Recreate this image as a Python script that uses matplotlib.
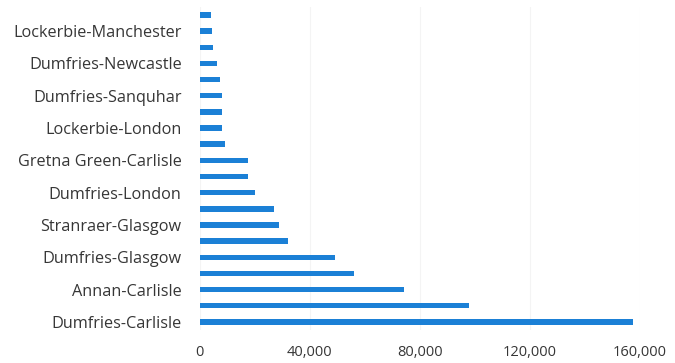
import matplotlib
matplotlib.use("Agg")
import matplotlib.pyplot as plt
from matplotlib.ticker import FuncFormatter

# routes, bottom to top (only every other one is labelled on the axis)
routes = ["Dumfries-Carlisle", "", "Annan-Carlisle", "", "Dumfries-Glasgow", "",
          "Stranraer-Glasgow", "", "Dumfries-London", "", "Gretna Green-Carlisle", "",
          "Lockerbie-London", "", "Dumfries-Sanquhar", "", "Dumfries-Newcastle", "",
          "Lockerbie-Manchester", ""]
journeys = [157500, 97900, 74300, 56200, 49300, 32100, 28800, 26800, 20100, 17600,
            17600, 9100, 8200, 8200, 7900, 7500, 6400, 4850, 4600, 3900]
x_ticks = [0, 40000, 80000, 120000, 160000]

plt.rcParams['font.family'] = ['Open Sans', 'DejaVu Sans']

fig = plt.figure(figsize=(6.75, 3.63), dpi=100)
ax = fig.add_axes([0.296, 0.091, 0.652, 0.89])

pos = list(range(len(journeys)))
ax.barh(pos, journeys, height=0.34, color="#1b80d6", zorder=3)

ax.set_ylim(-0.5, len(journeys) - 0.5)
ax.set_xlim(0, 160000)
ax.set_yticks(pos)
ax.set_yticklabels(routes)
ax.set_xticks(x_ticks)
ax.xaxis.set_major_formatter(FuncFormatter(lambda v, _: f"{int(v):,}"))

ax.grid(axis="x", color="#f4f4f4", linewidth=0.8, zorder=0)
for s in ax.spines.values():
    s.set_visible(False)
ax.tick_params(axis="both", length=0, colors="#363636")
ax.tick_params(axis="y", pad=13, labelsize=11.7)
ax.tick_params(axis="x", pad=11, labelsize=10.5)

fig.savefig("out.png", dpi=100)
